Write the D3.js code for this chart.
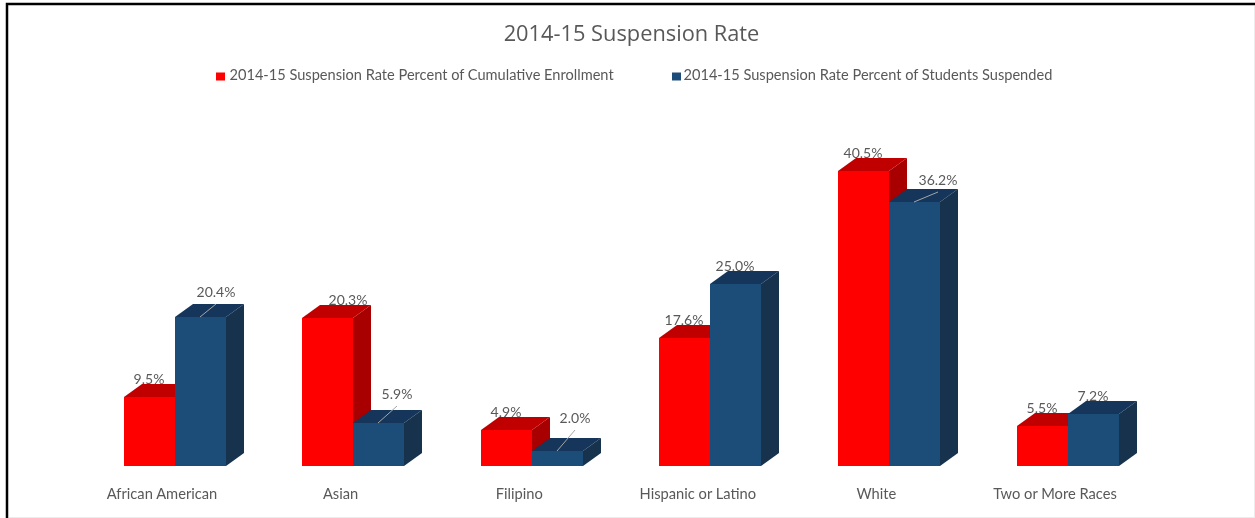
<!DOCTYPE html>
<html><head><meta charset="utf-8">
<script src="https://d3js.org/d3.v7.min.js"></script>
<style>
html,body{margin:0;padding:0;background:#fff;overflow:hidden}
svg{display:block}
text{font-family:Lato,"Open Sans",sans-serif;fill:#595959}
</style></head><body><svg id="c" width="1255" height="518"></svg>
<script>
const categories=["African American","Asian","Filipino","Hispanic or Latino","White","Two or More Races"];
const seriesNames=["2014-15 Suspension Rate Percent of Cumulative Enrollment","2014-15 Suspension Rate Percent of Students Suspended"];
const enrollment=[9.5,20.3,4.9,17.6,40.5,5.5];
const suspended=[20.4,5.9,2.0,25.0,36.2,7.2];
const title="2014-15 Suspension Rate";

const svg=d3.select("#c");
const defs=svg.append("defs");
defs.append("filter").attr("id","soft")
 .attr("filterUnits","userSpaceOnUse").attr("x",0).attr("y",0).attr("width",1255).attr("height",518)
 .append("feGaussianBlur").attr("stdDeviation",0.42);

const x=d3.scaleBand().domain(categories).range([85.7,1157.3]);
const y=d3.scaleLinear().domain([0,40.5]).range([466,171]);
const barW=51, dx=18, dy=-13;
const colors=[{f:"#ff0000",t:"#c00000",s:"#a80000"},{f:"#1f4e79",t:"#14365a",s:"#16304d"}];

// frame
svg.append("rect").attr("width",1255).attr("height",518).attr("fill","#fff");
svg.append("path").attr("d","M7,518V4H1255").attr("fill","none").attr("stroke","#000").attr("stroke-width",2.5);
svg.append("path").attr("d","M9,517.5H1255M1254.5,6V518").attr("fill","none").attr("stroke","#ececec").attr("stroke-width",1);

const rows=categories.flatMap((c,i)=>[{c,i,s:0,v:enrollment[i]},{c,i,s:1,v:suspended[i]}]);
const bx=d=>Math.floor(x(d.c)+x.bandwidth()/2+(d.s-1)*barW);
const by=d=>Math.round(y(d.v));
const g=svg.append("g").attr("filter","url(#soft)");
const bars=g.selectAll("g.bar").data(rows).join("g").attr("class","bar");
bars.append("path").attr("fill",d=>colors[d.s].s).attr("d",d=>{const a=bx(d)+barW,t=by(d),b=y(0);return `M${a},${t}l${dx},${dy}V${b+dy}l${-dx},${-dy}Z`;});
bars.append("path").attr("fill",d=>colors[d.s].t).attr("d",d=>{const a=bx(d),t=by(d);return `M${a},${t}l${dx},${dy}h${barW}l${-dx},${-dy}Z`;});
bars.append("rect").attr("fill",d=>colors[d.s].f).attr("x",bx).attr("y",by).attr("width",barW).attr("height",d=>y(0)-by(d));

// value labels: default spot above the bar's top, with hand-moved ones as in the source chart
const moved={"0|Asian":[46,-13],"1|African American":[41,-20],"1|Asian":[44,-24],"1|Filipino":[43,-28],"1|White":[49,-17]};
const off=d=>moved[d.s+"|"+d.c]||[25,-13.5];
g.selectAll("text.val").data(rows).join("text").attr("class","val")
 .attr("text-anchor","middle").attr("font-size",14)
 .attr("x",d=>bx(d)+off(d)[0]).attr("y",d=>by(d)+off(d)[1])
 .text(d=>d3.format(".1f")(d.v)+"%");

// leader lines for the moved blue labels
g.selectAll("line.lead").data(rows.filter(d=>d.s===1&&moved[d.s+"|"+d.c])).join("line").attr("class","lead")
 .attr("x1",d=>bx(d)+25).attr("y1",by).attr("x2",d=>bx(d)+off(d)[0]).attr("y2",d=>by(d)+off(d)[1]+7)
 .attr("stroke","#a6a6a6").attr("stroke-width",1);

// category axis labels
const labelShift=-13;
g.selectAll("text.cat").data(categories).join("text").attr("class","cat")
 .attr("text-anchor","middle").attr("font-size",14.7)
 .attr("x",c=>x(c)+x.bandwidth()/2+labelShift).attr("y",498.5).text(c=>c);

// title
g.append("text").attr("x",631.5).attr("y",41).attr("text-anchor","middle").attr("font-size",21.8).style("font-family","'Open Sans'").text(title);

// legend
const lg=g.selectAll("g.leg").data(seriesNames).join("g").attr("class","leg")
 .attr("transform",(d,i)=>`translate(${[216,672][i]},0)`);
lg.append("rect").attr("y",72.5).attr("width",9).attr("height",8).attr("fill",(d,i)=>colors[i].f);
lg.append("text").attr("x",(d,i)=>[13.5,11.5][i]).attr("y",80).attr("font-size",14.6).text(d=>d);
</script></body></html>
